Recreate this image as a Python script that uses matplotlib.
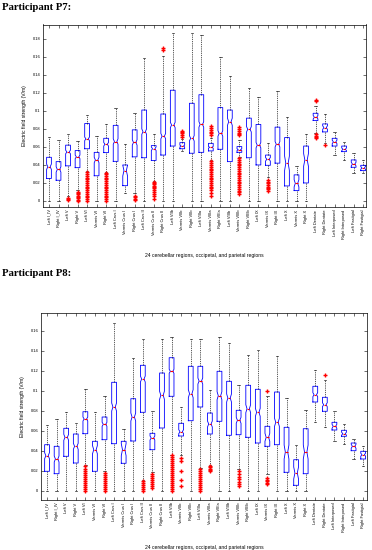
import numpy as np
import matplotlib
matplotlib.use('Agg')
import matplotlib.pyplot as plt
from matplotlib.ticker import FuncFormatter

plt.rcParams['font.family'] = ['Liberation Sans', 'DejaVu Sans']

# region names (x categories)
regions = ['Left I_IV', 'Right I_IV', 'Left V', 'Right V', 'Left VI', 'Vermis VI', 'Right VI',
           'Left Crus I', 'Vermis Crus I', 'Right Crus I', 'Left Crus II', 'Vermis Crus II',
           'Right Crus II', 'Left VIIb', 'Vermis VIIb', 'Right VIIb', 'Left VIIIa', 'Vermis VIIIa',
           'Right VIIIa', 'Left VIIIb', 'Vermis VIIIb', 'Right VIIIb', 'Left IX', 'Vermis IX',
           'Right IX', 'Left X', 'Vermis X', 'Right X', 'Left Dentate', 'Right Dentate',
           'Left Interposed', 'Right Interposed', 'Left Fastigial', 'Right Fastigial']

# ---- Participant P7 ----
p7_lo = [0, 0, 0.005, 0.012, 0.033, 0, 0.032, 0, 0.0085, 0.0085, 0, 0.022, 0, 0, 0.0556, 0, 0,
         0.046, 0, 0, 0.049, 0, 0, 0.027, 0, 0, 0, 0, 0.076, 0.064, 0.051, 0.0456, 0.0315, 0.031]
p7_q1 = [0.025, 0.023, 0.039, 0.037, 0.058, 0.028, 0.0537, 0.044, 0.017, 0.049, 0.048, 0.045,
         0.051, 0.061, 0.058, 0.053, 0.054, 0.0556, 0.0574, 0.0437, 0.054, 0.048, 0.040, 0.0396,
         0.042, 0.0167, 0.0115, 0.020, 0.0893, 0.0767, 0.061, 0.0548, 0.0374, 0.0337]
p7_med = [0.038, 0.035, 0.0544, 0.049, 0.069, 0.0455, 0.063, 0.066, 0.0337, 0.065, 0.077, 0.058,
          0.072, 0.0844, 0.061, 0.0696, 0.085, 0.0596, 0.075, 0.088, 0.057, 0.0796, 0.062, 0.0463,
          0.063, 0.0419, 0.0196, 0.0456, 0.093, 0.0815, 0.0656, 0.0574, 0.041, 0.0367]
p7_q3 = [0.0485, 0.0437, 0.062, 0.056, 0.086, 0.054, 0.0696, 0.084, 0.040, 0.079, 0.101, 0.0615,
         0.0966, 0.123, 0.0648, 0.1085, 0.118, 0.064, 0.1037, 0.101, 0.0604, 0.092, 0.085, 0.051,
         0.082, 0.0704, 0.029, 0.061, 0.0974, 0.0856, 0.0696, 0.061, 0.0456, 0.0396]
p7_hi = [0.0715, 0.068, 0.074, 0.067, 0.096, 0.0726, 0.085, 0.1037, 0.063, 0.098, 0.159, 0.0745,
         0.161, 0.1867, 0.069, 0.187, 0.184, 0.070, 0.1596, 0.139, 0.068, 0.125, 0.116, 0.064,
         0.122, 0.0937, 0.039, 0.0744, 0.1055, 0.0967, 0.077, 0.066, 0.053, 0.0456]
p7_notch = [0.003, 0.003, 0.002, 0.002, 0.002, 0.003, 0.002, 0.003, 0.006, 0.003, 0.003, 0.002,
            0.003, 0.003, 0.001, 0.003, 0.003, 0.001, 0.003, 0.004, 0.001, 0.003, 0.003, 0.002,
            0.003, 0.008, 0.004, 0.007, 0.002, 0.002, 0.002, 0.0015, 0.002, 0.0015]
p7_out = [[], [], [0.001, 0.002, 0.003],
          [0.0, 0.0015, 0.003, 0.0045, 0.006, 0.0075, 0.009, 0.0105],
          [0.0, 0.002, 0.004, 0.006, 0.008, 0.010, 0.012, 0.014, 0.016, 0.018, 0.020, 0.022,
           0.024, 0.026, 0.028, 0.030, 0.032],
          [],
          [0.0, 0.002, 0.004, 0.006, 0.008, 0.010, 0.012, 0.014, 0.016, 0.018, 0.020, 0.022,
           0.024, 0.026, 0.028, 0.030, 0.031],
          [], [], [0.001, 0.0025, 0.004, 0.0055], [],
          [0.0215, 0.020, 0.0185, 0.017, 0.0155, 0.014, 0.0125, 0.0105, 0.0078, 0.005, 0.002],
          [0.168, 0.170], [], [0.071, 0.073, 0.075, 0.077, 0.078], [], [],
          [0.073, 0.075, 0.077, 0.079, 0.081, 0.083, 0.044, 0.042, 0.040, 0.038, 0.036, 0.034,
           0.032, 0.030, 0.028, 0.026, 0.024, 0.022, 0.020, 0.018, 0.016, 0.014, 0.012, 0.0085,
           0.0055],
          [], [],
          [0.073, 0.0745, 0.076, 0.078, 0.080, 0.082, 0.0474, 0.0455, 0.0435, 0.0415, 0.0395,
           0.0375, 0.0355, 0.0335, 0.0315, 0.0295, 0.0275, 0.0255, 0.0235, 0.0215, 0.0195,
           0.0175, 0.0155, 0.0135, 0.0115, 0.0095, 0.0074],
          [], [], [0.0233, 0.0215, 0.0197, 0.018, 0.016, 0.0145, 0.013, 0.0115],
          [], [], [], [], [0.111, 0.112, 0.0696, 0.071, 0.0725, 0.074], [0.0625], [], [], [], []]

# ---- Participant P8 ----
p8_lo = [0, 0, 0, 0, 0.0263, 0, 0.0197, 0, 0, 0, 0.0113, 0.0187, 0, 0.0363, 0.0363, 0, 0.023,
         0.0263, 0, 0, 0.022, 0, 0, 0.0173, 0, 0, 0, 0, 0.069, 0.064, 0.0503, 0.047, 0.0323, 0.0247]
p8_q1 = [0.0197, 0.0173, 0.0347, 0.028, 0.0573, 0.0197, 0.0513, 0.0473, 0.0277, 0.05, 0.0787,
         0.0413, 0.063, 0.0947, 0.055, 0.0703, 0.084, 0.057, 0.0697, 0.0557, 0.0563, 0.0537,
         0.048, 0.0447, 0.0463, 0.0187, 0.0057, 0.0173, 0.089, 0.0797, 0.061, 0.0547, 0.0403, 0.032]
p8_med = [0.0353, 0.032, 0.0537, 0.0447, 0.072, 0.0413, 0.0667, 0.084, 0.0413, 0.074, 0.112,
          0.053, 0.0957, 0.1197, 0.0593, 0.0973, 0.110, 0.067, 0.0953, 0.093, 0.0707, 0.0823,
          0.0787, 0.0537, 0.0687, 0.039, 0.018, 0.039, 0.0963, 0.0863, 0.0647, 0.0573, 0.0447,
          0.0363]
p8_q3 = [0.0463, 0.0447, 0.0627, 0.057, 0.0793, 0.0497, 0.074, 0.1087, 0.0497, 0.0923, 0.1257,
         0.0577, 0.118, 0.1333, 0.0677, 0.1247, 0.1247, 0.078, 0.1197, 0.1097, 0.0807, 0.1057,
         0.1017, 0.0647, 0.099, 0.0637, 0.0313, 0.0623, 0.1047, 0.0937, 0.0687, 0.0607, 0.048,
         0.0397]
p8_hi = [0.0657, 0.072, 0.0793, 0.0683, 0.102, 0.0793, 0.0953, 0.168, 0.062, 0.1327, 0.152,
         0.0797, 0.152, 0.154, 0.084, 0.152, 0.152, 0.101, 0.154, 0.148, 0.1063, 0.1363, 0.1413,
         0.0947, 0.1347, 0.093, 0.0463, 0.0813, 0.121, 0.111, 0.0803, 0.0667, 0.052, 0.0453]
p8_notch = [0.003, 0.003, 0.003, 0.003, 0.002, 0.004, 0.002, 0.004, 0.006, 0.004, 0.003, 0.002,
            0.004, 0.002, 0.002, 0.004, 0.003, 0.003, 0.004, 0.004, 0.003, 0.004, 0.004, 0.004,
            0.004, 0.007, 0.006, 0.007, 0.002, 0.002, 0.002, 0.0015, 0.002, 0.0015]
p8_out = [[], [], [], [],
          [0.0, 0.002, 0.004, 0.006, 0.008, 0.010, 0.012, 0.014, 0.016, 0.018, 0.020, 0.022,
           0.0247],
          [],
          [0.0, 0.002, 0.004, 0.006, 0.008, 0.010, 0.012, 0.014, 0.016, 0.018],
          [], [], [],
          [0.0, 0.002, 0.004, 0.006, 0.008, 0.010],
          [0.0173, 0.0155, 0.0135, 0.0115, 0.0095, 0.0075, 0.005, 0.003],
          [],
          [0.0, 0.002, 0.004, 0.006, 0.008, 0.010, 0.012, 0.014, 0.016, 0.018, 0.020, 0.022,
           0.024, 0.026, 0.028, 0.030, 0.032, 0.034, 0.0357],
          [0.033, 0.0303, 0.0203, 0.0113, 0.0053],
          [],
          [0.0, 0.002, 0.004, 0.006, 0.008, 0.010, 0.012, 0.014, 0.016, 0.018, 0.020, 0.022],
          [0.0197, 0.021, 0.0225, 0.024, 0.0253],
          [], [],
          [0.0197, 0.017, 0.0145, 0.012, 0.0095, 0.007, 0.0047],
          [], [],
          [0.0997, 0.013, 0.0115, 0.010, 0.0085, 0.0073],
          [], [], [], [], [], [0.1163], [], [], [], []]


def make_stats(lo, q1, med, q3, hi, notch, out):
    stats = []
    for i in range(len(med)):
        stats.append({'whislo': lo[i], 'q1': q1[i], 'med': med[i], 'q3': q3[i],
                      'whishi': hi[i], 'cilo': med[i] - notch[i], 'cihi': med[i] + notch[i],
                      'fliers': np.array(out[i])})
    return stats


def draw_panel(ax, stats, ylim, yticks, xlim, xlab_y):
    pos = np.arange(1, len(regions) + 1)
    ax.bxp(stats, positions=pos, widths=0.5, shownotches=True, showfliers=True,
           boxprops=dict(color='#0000ff', linewidth=0.6),
           medianprops=dict(color='#ff0000', linewidth=0.8),
           whiskerprops=dict(color='black', linewidth=0.45, linestyle=(0, (2, 1.5))),
           capprops=dict(color='black', linewidth=0.45),
           flierprops=dict(marker='+', markeredgecolor='#ff0000', markerfacecolor='#ff0000',
                           markersize=2.4, markeredgewidth=1.0, linestyle='none'))
    ax.set_xlim(xlim)
    ax.set_ylim(ylim)
    ax.set_yticks(yticks)
    ax.yaxis.set_major_formatter(FuncFormatter(lambda v, p: '%g' % round(v, 3)))
    ax.set_xticks(pos)
    ax.set_xticklabels(regions, rotation=90, va='top', ha='center')
    ax.tick_params(direction='in', length=2, width=0.4, labelsize=2.9, top=True, right=True, pad=1.8)
    for s in ax.spines.values():
        s.set_linewidth(0.5)
    ax.set_ylabel('Electric field strength (V/m)', fontsize=3.6)
    ax.yaxis.set_label_coords(-0.05, 0.5)
    ax.set_xlabel('24 cerebellar regions, occipetal, and parietal regions', fontsize=3.6)
    ax.xaxis.set_label_coords(0.5, xlab_y)


fig = plt.figure(figsize=(3.72, 5.5), dpi=100)

ax1 = fig.add_axes([43 / 372, 1 - 207 / 550, 323 / 372, 182.5 / 550])
draw_panel(ax1, make_stats(p7_lo, p7_q1, p7_med, p7_q3, p7_hi, p7_notch, p7_out),
           (-0.0067, 0.196), [0, 0.02, 0.04, 0.06, 0.08, 0.1, 0.12, 0.14, 0.16, 0.18],
           (0.37, 34.3), -0.252)

ax2 = fig.add_axes([41 / 372, 1 - 500 / 550, 326 / 372, 187 / 550])
draw_panel(ax2, make_stats(p8_lo, p8_q1, p8_med, p8_q3, p8_hi, p8_notch, p8_out),
           (-0.009, 0.178), [0, 0.02, 0.04, 0.06, 0.08, 0.1, 0.12, 0.14, 0.16],
           (0.37, 34.4), -0.24)

fig.text(2 / 372, 1 - 7.5 / 550, 'Participant P7:', fontsize=7.7, fontweight='bold',
         family='Liberation Serif', va='center', ha='left')
fig.text(2 / 372, 1 - 273.5 / 550, 'Participant P8:', fontsize=7.7, fontweight='bold',
         family='Liberation Serif', va='center', ha='left')

fig.savefig('out.png', dpi=100)
